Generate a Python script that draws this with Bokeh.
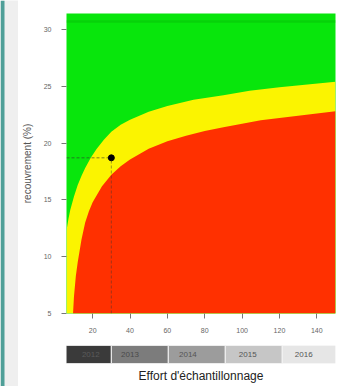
from bokeh.plotting import figure
from bokeh.models import Range1d, FixedTicker, Title, ColumnDataSource
from bokeh.layouts import row, column
from bokeh.embed import file_html
from bokeh.resources import INLINE
from bokeh.core.properties import value

# ---- data ----
# upper limit of the yellow zone (green above)
yellow_x = [6, 7, 8, 10, 12, 14, 16, 19, 22, 26, 30, 35, 40, 50, 60, 74, 90, 104, 120, 135, 150]
yellow_y = [12.3, 13.3, 14.1, 15.3, 16.3, 17.1, 17.8, 18.7, 19.45, 20.3, 21.0, 21.6, 22.05, 22.75,
            23.25, 23.8, 24.2, 24.6, 24.9, 25.15, 25.4]
# upper limit of the red zone
red_x = [9.5, 10, 11, 12, 14, 16, 18, 20, 25, 30, 35, 40, 50, 60, 70, 80, 90, 100, 110, 120,
         130, 140, 150]
red_y = [5.0, 6.5, 8.3, 9.5, 11.5, 13.0, 14.0, 14.8, 16.2, 17.2, 17.95, 18.55, 19.5, 20.15, 20.65,
         21.05, 21.4, 21.7, 22.0, 22.2, 22.4, 22.6, 22.8]
# observed point
point_x = [30]
point_y = [18.7]
top_line_y = 30.7

x_ticks = [20, 40, 60, 80, 100, 120, 140]
y_ticks = [5, 10, 15, 20, 25, 30]

years = ["2012", "2013", "2014", "2015", "2016"]
year_left = [5.5, 30, 60.5, 91, 121.5]
year_right = [30, 60.5, 91, 121.5, 150]
year_text_x = [19, 40, 71, 103, 133]
year_colors = ["#3a3a3a", "#7c7c7c", "#9c9c9c", "#c6c6c6", "#e6e6e6"]
year_text_colors = ["#5a5a5a", "#4a4a4a", "#555555", "#555555", "#555555"]

X_MIN, X_MAX = 6, 150
Y_MIN, Y_MAX = 5, 31.4

FONT = "Liberation Sans"
GREEN = "#08e60c"
YELLOW = "#fbf400"
RED = "#ff3000"

xr = Range1d(X_MIN, X_MAX)

# ---- main plot ----
p = figure(width=318, height=338, x_range=xr, y_range=Range1d(Y_MIN, Y_MAX),
           output_backend="svg", toolbar_location=None,
           min_border_left=48, min_border_right=1, min_border_top=13, min_border_bottom=25)
p.background_fill_color = GREEN
p.border_fill_color = "white"
p.outline_line_color = None
p.grid.visible = False

p.varea(x=yellow_x, y1=[Y_MIN] * len(yellow_x), y2=yellow_y, fill_color=YELLOW)
p.varea(x=red_x, y1=[Y_MIN] * len(red_x), y2=red_y, fill_color=RED)
p.line(x=[X_MIN, X_MAX], y=[top_line_y, top_line_y], line_color="#06c50a", line_width=2.5, line_alpha=0.6)

p.line(x=[X_MIN, point_x[0]], y=[point_y[0], point_y[0]], line_color="#333333",
       line_dash="3 2", line_width=1, line_alpha=0.6)
p.line(x=[point_x[0], point_x[0]], y=[Y_MIN, point_y[0]], line_color="#333333",
       line_dash="3 2", line_width=1, line_alpha=0.45)
p.scatter(x=point_x, y=point_y, size=6, color="black")

for ax in (p.xaxis[0], p.yaxis[0]):
    ax.axis_line_color = None
    ax.major_tick_line_color = "#777777"
    ax.major_tick_in = 0
    ax.major_tick_out = 5
    ax.minor_tick_line_color = None
    ax.major_label_text_font = FONT
    ax.major_label_text_font_size = "7px"
    ax.major_label_text_color = "#666666"

p.xaxis.major_label_standoff = 9
p.yaxis.major_label_standoff = 10
p.xaxis.ticker = FixedTicker(ticks=x_ticks)
p.yaxis.ticker = FixedTicker(ticks=y_ticks)
p.yaxis.axis_label = "recouvrement (%)"
p.yaxis.axis_label_text_font = FONT
p.yaxis.axis_label_text_font_size = "10px"
p.yaxis.axis_label_text_font_style = "normal"
p.yaxis.axis_label_text_color = "#555555"
p.yaxis.axis_label_standoff = 8

# ---- year bar ----
b = figure(width=318, height=48, x_range=xr, y_range=Range1d(0, 1),
           output_backend="svg", toolbar_location=None,
           min_border_left=48, min_border_right=1, min_border_top=7, min_border_bottom=23)
b.outline_line_color = None
b.grid.visible = False
b.xaxis.visible = False
b.yaxis.visible = False
b.background_fill_color = "white"
b.border_fill_color = "white"
src = ColumnDataSource(dict(left=year_left, right=year_right, color=year_colors,
                            tx=year_text_x, label=years, tcolor=year_text_colors))
b.quad(left="left", right="right", bottom=0, top=1, fill_color="color",
       line_color="#f4f4f4", line_width=1, source=src)
b.text(x="tx", y=0.5, text="label", text_color="tcolor", text_font=value(FONT),
       text_font_size="8px", text_align="center", text_baseline="middle", source=src)
b.add_layout(Title(text="Effort d'échantillonnage", align="center", text_font=FONT,
                   text_font_size="12px", text_font_style="normal", text_color="#222222",
                   standoff=7), "below")

# ---- slide margin on the left (teal edge + grey) ----
g = figure(width=18, height=386, x_range=Range1d(0, 18), y_range=Range1d(0, 1),
           output_backend="svg", toolbar_location=None,
           min_border_left=0, min_border_right=0, min_border_top=0, min_border_bottom=0)
g.axis.visible = False
g.grid.visible = False
g.outline_line_color = None
g.background_fill_color = "#efefef"
g.border_fill_color = "#efefef"
g.quad(left=[0], right=[4], bottom=[0], top=[1], fill_color="#4f9f98", line_color=None)

layout = row(g, column(p, b, spacing=0), spacing=0)

open("out.html", "w").write(file_html(layout, INLINE))
